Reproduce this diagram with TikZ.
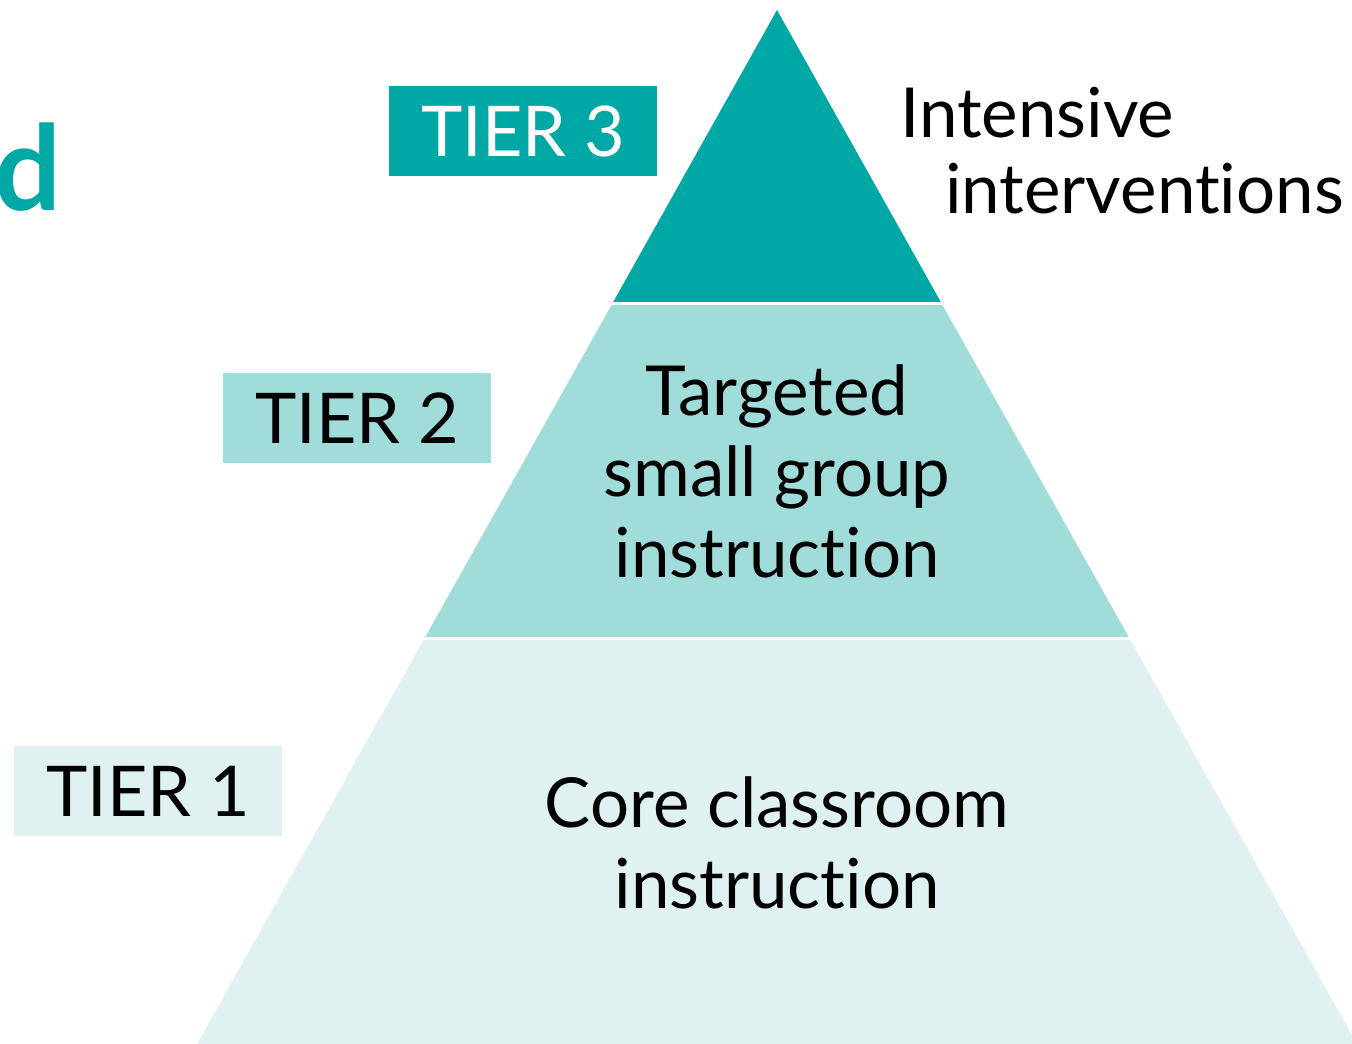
\documentclass[tikz,border=0pt]{standalone}
\usepackage{fontspec}
\setmainfont{Lato}[Ligatures=NoCommon]
\definecolor{tealdark}{RGB}{0,168,165}
\definecolor{tealmid}{RGB}{160,221,218}
\definecolor{teallight}{RGB}{223,242,241}
\begin{document}
\begin{tikzpicture}[x=1pt,y=-1pt,
  big/.style={font=\fontsize{69}{81}\selectfont, inner sep=0pt},
  tierbox/.style={minimum width=268pt, minimum height=90pt, inner sep=0pt, anchor=north west, font=\fontsize{70}{81}\selectfont}]
\useasboundingbox (0,0) rectangle (1352,1044);
% pyramid
\coordinate (apex) at (777,10);
\coordinate (bl) at (197,1044);
\coordinate (br) at (1357,1044);
\begin{scope}
\clip (0,0) rectangle (1352,303.5);
\fill[tealdark] (apex) -- (bl) -- (br) -- cycle;
\end{scope}
\begin{scope}
\clip (0,303.5) rectangle (1352,638.5);
\fill[tealmid] (apex) -- (bl) -- (br) -- cycle;
\end{scope}
\begin{scope}
\clip (0,638.5) rectangle (1352,1044);
\fill[teallight] (apex) -- (bl) -- (br) -- cycle;
\end{scope}
\draw[white, line width=3pt] (0,303.5) -- (1352,303.5);
\draw[white, line width=3pt] (0,638.5) -- (1352,638.5);
% tier labels
\node[tierbox, fill=tealdark, text=white] (t3) at (389,86) {TIER 3};
\node[tierbox, fill=tealmid] (t2) at (223,373) {TIER 2};
\node[tierbox, fill=teallight] (t1) at (14,746) {TIER 1};
% texts
\node[big, anchor=base west] (int1) at (900,137) {Intensive};
\node[big, anchor=base west] (int2) at (945,213) {interventions};
\node[big, align=center, anchor=base] (tg) at (777,577) {Targeted\\small group\\instruction};
\node[big, align=center, anchor=base] (core) at (777,908) {Core classroom\\instruction};
% cut-off title letter
\node[font=\fontsize{118}{120}\selectfont\bfseries, text=tealdark, anchor=base east, inner sep=0pt] (d) at (62,210) {d};
\end{tikzpicture}
\end{document}
